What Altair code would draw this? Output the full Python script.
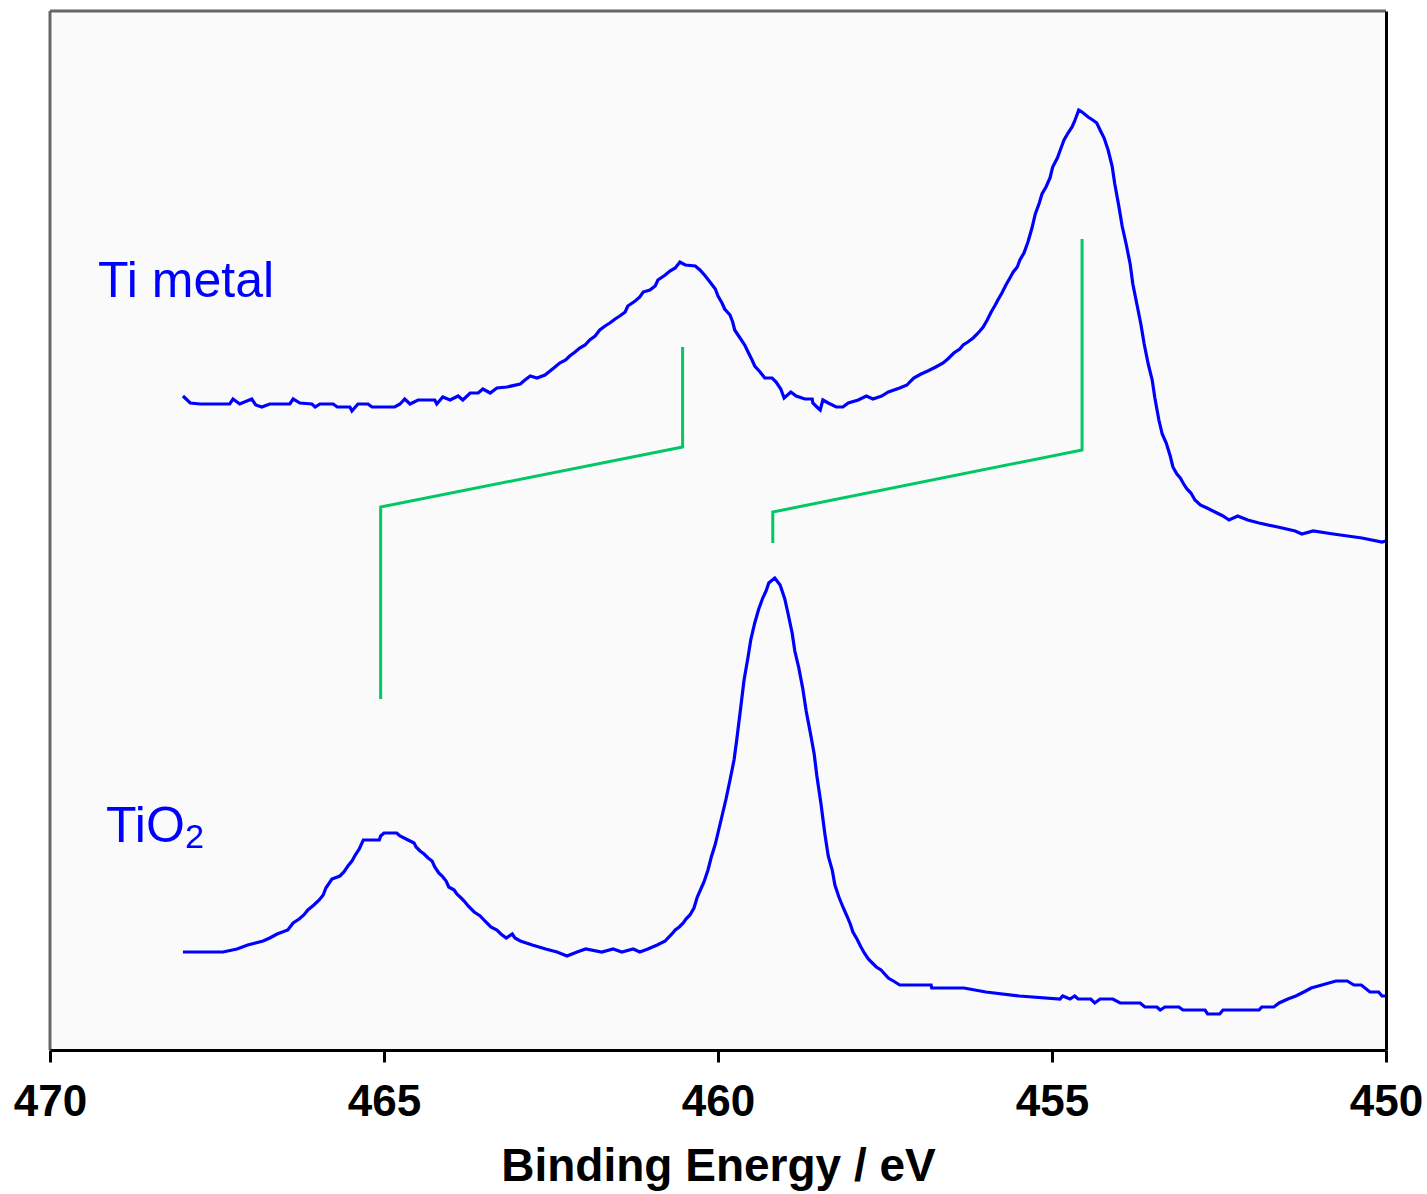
import altair as alt
import pandas as pd

# ---- Ti metal spectrum (binding energy / eV, intensity a.u.) ----
ti_ev = [
    468.01, 467.90, 467.75, 467.53, 467.31, 467.26, 467.16, 466.98, 466.92, 466.83,
    466.71, 466.41, 466.36, 466.26, 466.08, 466.03, 465.96, 465.76, 465.70, 465.51,
    465.48, 465.39, 465.24, 465.18, 464.84, 464.76, 464.69, 464.61, 464.49, 464.24,
    464.21, 464.12, 464.01, 463.89, 463.82, 463.71, 463.59, 463.52, 463.41, 463.31,
    463.16, 462.96, 462.89, 462.81, 462.71, 462.59, 462.44, 462.37, 462.28, 462.22,
    462.14, 462.07, 461.99, 461.92, 461.84, 461.77, 461.69, 461.62, 461.54, 461.47,
    461.39, 461.35, 461.24, 461.17, 461.12, 461.02, 460.94, 460.90, 460.79, 460.72,
    460.64, 460.57, 460.49, 460.34, 460.27, 460.19, 460.12, 460.04, 460.00, 459.94,
    459.90, 459.82, 459.78, 459.75, 459.67, 459.60, 459.55, 459.49, 459.45, 459.37,
    459.30, 459.19, 459.13, 459.06, 459.01, 458.91, 458.83, 458.70, 458.59, 458.58,
    458.52, 458.47, 458.43, 458.35, 458.23, 458.13, 458.05, 457.90, 457.78, 457.68,
    457.55, 457.45, 457.28, 457.17, 457.13, 457.07, 456.96, 456.86, 456.74, 456.63,
    456.56, 456.47, 456.38, 456.33, 456.26, 456.18, 456.12, 456.08, 456.03, 455.97,
    455.91, 455.85, 455.81, 455.75, 455.69, 455.63, 455.58, 455.52, 455.48, 455.42,
    455.36, 455.30, 455.25, 455.19, 455.15, 455.09, 455.03, 454.99, 454.92, 454.87,
    454.82, 454.76, 454.70, 454.66, 454.60, 454.55, 454.46, 454.39, 454.33, 454.28,
    454.22, 454.16, 454.10, 454.06, 454.00, 453.95, 453.89, 453.83, 453.79, 453.73,
    453.67, 453.62, 453.56, 453.50, 453.46, 453.40, 453.35, 453.29, 453.23, 453.19,
    453.13, 453.08, 453.02, 452.98, 452.92, 452.86, 452.78, 452.68, 452.53, 452.44,
    452.35, 452.22, 452.07, 451.90, 451.62, 451.36, 451.26, 451.09, 450.79, 450.36,
    450.06, 450.00,
]
ti_int = [
    65.4, 64.7, 64.6, 64.6, 64.6, 65.1, 64.6, 65.1, 64.5, 64.3,
    64.6, 64.6, 65.1, 64.7, 64.6, 64.3, 64.6, 64.6, 64.3, 64.3,
    63.9, 64.6, 64.6, 64.3, 64.3, 64.6, 65.1, 64.6, 65.0, 65.0,
    64.6, 65.3, 65.0, 65.4, 65.0, 65.7, 65.7, 66.1, 65.7, 66.2,
    66.3, 66.6, 67.0, 67.4, 67.2, 67.5, 68.3, 68.7, 69.0, 69.4,
    69.8, 70.2, 70.5, 71.0, 71.4, 72.0, 72.4, 72.7, 73.1, 73.4,
    73.8, 74.4, 74.9, 75.3, 75.8, 76.0, 76.4, 77.0, 77.5, 77.9,
    78.2, 78.8, 78.5, 78.4, 78.0, 77.4, 76.8, 76.1, 75.4, 74.7,
    74.1, 73.5, 72.8, 72.0, 71.2, 70.5, 69.8, 69.0, 68.4, 67.8,
    67.2, 67.2, 66.8, 66.1, 65.2, 65.8, 65.4, 65.1, 65.1, 64.7,
    64.3, 64.0, 65.0, 64.7, 64.3, 64.3, 64.7, 65.0, 65.4, 65.1,
    65.4, 65.8, 66.2, 66.5, 66.8, 67.2, 67.6, 67.9, 68.3, 68.7,
    69.1, 69.7, 70.1, 70.5, 70.8, 71.2, 71.6, 71.9, 72.3, 73.0,
    73.8, 74.5, 75.0, 75.7, 76.5, 77.2, 77.8, 78.3, 79.0, 79.7,
    80.8, 82.2, 83.6, 84.7, 85.6, 86.3, 87.2, 88.3, 89.2, 90.1,
    91.0, 91.7, 92.3, 92.9, 94.0, 93.8, 93.3, 93.0, 92.7, 92.0,
    91.2, 90.0, 88.4, 86.6, 84.4, 82.4, 80.6, 78.6, 76.6, 74.6,
    72.6, 70.6, 68.6, 67.0, 65.2, 63.0, 61.6, 60.7, 59.4, 58.3,
    57.6, 57.2, 56.5, 56.1, 55.7, 55.0, 54.5, 54.2, 53.7, 53.4,
    53.0, 53.4, 53.0, 52.7, 52.3, 51.9, 51.6, 51.9, 51.6, 51.2,
    50.8, 50.9,
]

# ---- TiO2 spectrum ----
tio2_ev = [
    468.01, 467.41, 467.20, 467.04, 466.81, 466.71, 466.60, 466.44, 466.36, 466.27,
    466.20, 466.14, 466.05, 465.97, 465.91, 465.87, 465.78, 465.66, 465.60, 465.54,
    465.48, 465.43, 465.37, 465.31, 465.07, 465.05, 465.00, 464.81, 464.76, 464.64,
    464.55, 464.52, 464.46, 464.40, 464.34, 464.28, 464.24, 464.18, 464.13, 464.07,
    464.03, 463.95, 463.91, 463.86, 463.80, 463.74, 463.65, 463.56, 463.49, 463.40,
    463.31, 463.25, 463.17, 463.08, 463.04, 462.96, 462.78, 462.58, 462.41, 462.26,
    462.11, 461.98, 461.74, 461.57, 461.44, 461.27, 461.17, 461.05, 460.91, 460.79,
    460.75, 460.69, 460.64, 460.58, 460.52, 460.48, 460.42, 460.36, 460.31, 460.25,
    460.21, 460.15, 460.10, 460.04, 459.99, 459.94, 459.88, 459.82, 459.76, 459.72,
    459.67, 459.61, 459.55, 459.51, 459.45, 459.39, 459.33, 459.28, 459.24, 459.15,
    459.07, 459.00, 458.95, 458.89, 458.85, 458.79, 458.73, 458.68, 458.62, 458.56,
    458.52, 458.46, 458.40, 458.35, 458.29, 458.25, 458.19, 458.13, 458.07, 458.02,
    457.98, 457.92, 457.86, 457.81, 457.75, 457.69, 457.63, 457.56, 457.45, 457.35,
    457.28, 456.81, 456.80, 456.32, 455.99, 455.49, 454.88, 454.84, 454.73, 454.66,
    454.61, 454.42, 454.36, 454.28, 454.09, 453.98, 453.68, 453.61, 453.43, 453.38,
    453.31, 453.10, 453.04, 452.71, 452.67, 452.49, 452.44, 451.90, 451.86, 451.68,
    451.60, 451.47, 451.35, 451.23, 451.12, 450.96, 450.75, 450.58, 450.48, 450.37,
    450.24, 450.11, 450.06, 450.00,
]
tio2_int = [
    9.8, 9.8, 10.1, 10.5, 10.9, 11.2, 11.6, 12.0, 12.7, 13.1,
    13.5, 14.0, 14.5, 15.0, 15.5, 16.2, 17.1, 17.4, 17.8, 18.4,
    18.9, 19.5, 20.1, 21.0, 21.0, 21.4, 21.7, 21.7, 21.4, 21.0,
    20.7, 20.3, 19.9, 19.6, 19.2, 18.9, 18.3, 17.7, 17.4, 16.9,
    16.3, 16.0, 15.6, 15.3, 14.9, 14.4, 13.8, 13.4, 12.9, 12.3,
    12.0, 11.6, 11.2, 11.6, 11.2, 10.9, 10.5, 10.1, 9.8, 9.4,
    9.8, 10.1, 9.8, 10.1, 9.8, 10.1, 9.8, 10.1, 10.5, 10.9,
    11.2, 11.6, 12.0, 12.3, 12.7, 13.1, 13.5, 14.2, 15.3, 16.2,
    16.8, 18.0, 19.3, 20.6, 22.0, 23.4, 25.1, 27.0, 29.0, 31.0,
    33.7, 37.0, 39.3, 41.0, 42.7, 44.1, 45.2, 45.9, 46.7, 47.2,
    46.5, 45.1, 43.6, 41.7, 39.9, 38.2, 36.1, 33.9, 31.8, 29.6,
    27.4, 24.7, 21.6, 19.4, 18.0, 16.5, 15.3, 14.3, 13.4, 12.6,
    11.8, 11.1, 10.3, 9.7, 9.1, 8.7, 8.3, 8.0, 7.2, 6.8,
    6.5, 6.5, 6.2, 6.2, 5.8, 5.4, 5.1, 5.4, 5.1, 5.4,
    5.1, 5.1, 4.7, 5.1, 5.1, 4.7, 4.7, 4.3, 4.3, 4.0,
    4.3, 4.3, 4.0, 4.0, 3.6, 3.6, 4.0, 4.0, 4.3, 4.3,
    4.7, 5.1, 5.4, 5.8, 6.2, 6.5, 6.9, 6.9, 6.5, 6.5,
    5.8, 5.8, 5.4, 5.4,
]

# ---- green correlation brackets ----
bracket_a_ev = [465.05, 465.05, 460.53, 460.53]
bracket_a_int = [35.1, 54.3, 60.3, 70.3]
bracket_b_ev = [459.18, 459.18, 454.55, 454.55]
bracket_b_int = [50.7, 53.8, 60.0, 81.1]

# ---- labels ----
label_text = ["Ti metal", "TiO"]
label_ev = [469.28, 469.16]
label_int = [75.3, 20.8]
sub_text = ["2"]
sub_ev = [467.98]
sub_int = [20.2]

tick_values = [470, 465, 460, 455, 450]

W, H = 1336, 1039
BLUE = "#0000FF"
GREEN = "#00C864"
FONT = "Liberation Sans"

spec_df = pd.concat([
    pd.DataFrame({"ev": ti_ev, "intensity": ti_int, "series": "Ti metal",
                  "i": range(len(ti_ev))}),
    pd.DataFrame({"ev": tio2_ev, "intensity": tio2_int, "series": "TiO2",
                  "i": range(len(tio2_ev))}),
])
br_df = pd.concat([
    pd.DataFrame({"ev": bracket_a_ev, "intensity": bracket_a_int, "series": "a",
                  "i": range(4)}),
    pd.DataFrame({"ev": bracket_b_ev, "intensity": bracket_b_int, "series": "b",
                  "i": range(4)}),
])
lab_df = pd.DataFrame({"ev": label_ev, "intensity": label_int, "text": label_text})
sub_df = pd.DataFrame({"ev": sub_ev, "intensity": sub_int, "text": sub_text})

xscale = alt.Scale(domain=[450, 470], reverse=True, nice=False, zero=False)
yscale = alt.Scale(domain=[0, 103.9], nice=False, zero=False)

x_enc = alt.X(
    "ev:Q", scale=xscale,
    axis=alt.Axis(
        values=tick_values, format="d", title="Binding Energy / eV",
        grid=False, domainColor="black", domainWidth=3,
        tickColor="black", tickWidth=3, tickSize=12,
        labelFont=FONT, labelFontSize=44, labelFontWeight="bold",
        labelColor="black", labelPadding=18, labelFlush=False,
        titleFont=FONT, titleFontSize=46, titleFontWeight="bold",
        titleColor="black", titlePadding=20, zindex=2,
    ),
)
y_enc = alt.Y(
    "intensity:Q", scale=yscale,
    axis=alt.Axis(orient="right", title=None, labels=False, ticks=False,
                  grid=False, domainColor="black", domainWidth=3, zindex=2),
)

spectra = alt.Chart(spec_df).mark_line(color=BLUE, strokeWidth=3.2).encode(
    x=x_enc, y=y_enc, detail="series:N", order="i:Q"
)
brackets = alt.Chart(br_df).mark_line(color=GREEN, strokeWidth=3).encode(
    x="ev:Q", y="intensity:Q", detail="series:N", order="i:Q"
)
labels = alt.Chart(lab_df).mark_text(
    color=BLUE, font=FONT, fontSize=50, align="left", baseline="alphabetic"
).encode(x="ev:Q", y="intensity:Q", text="text:N")
subs = alt.Chart(sub_df).mark_text(
    color=BLUE, font=FONT, fontSize=34, align="left", baseline="alphabetic"
).encode(x="ev:Q", y="intensity:Q", text="text:N")

one = pd.DataFrame({"a": [0]})
left_border = alt.Chart(one).mark_rule(color="#666666", strokeWidth=3).encode(
    x=alt.value(0), y=alt.value(0), y2=alt.value(H))
top_border = alt.Chart(one).mark_rule(color="#666666", strokeWidth=3).encode(
    x=alt.value(0), x2=alt.value(W), y=alt.value(0))

chart = alt.layer(spectra, brackets, labels, subs, left_border, top_border).properties(
    width=W, height=H,
    padding={"left": 50, "top": 11, "right": 41, "bottom": 144},
    autosize=alt.AutoSizeParams(type="none"),
    background="white",
).configure_view(fill="#FAFAFA", strokeWidth=0)

chart.save("out.html", embed_options={"renderer": "svg", "actions": False})
